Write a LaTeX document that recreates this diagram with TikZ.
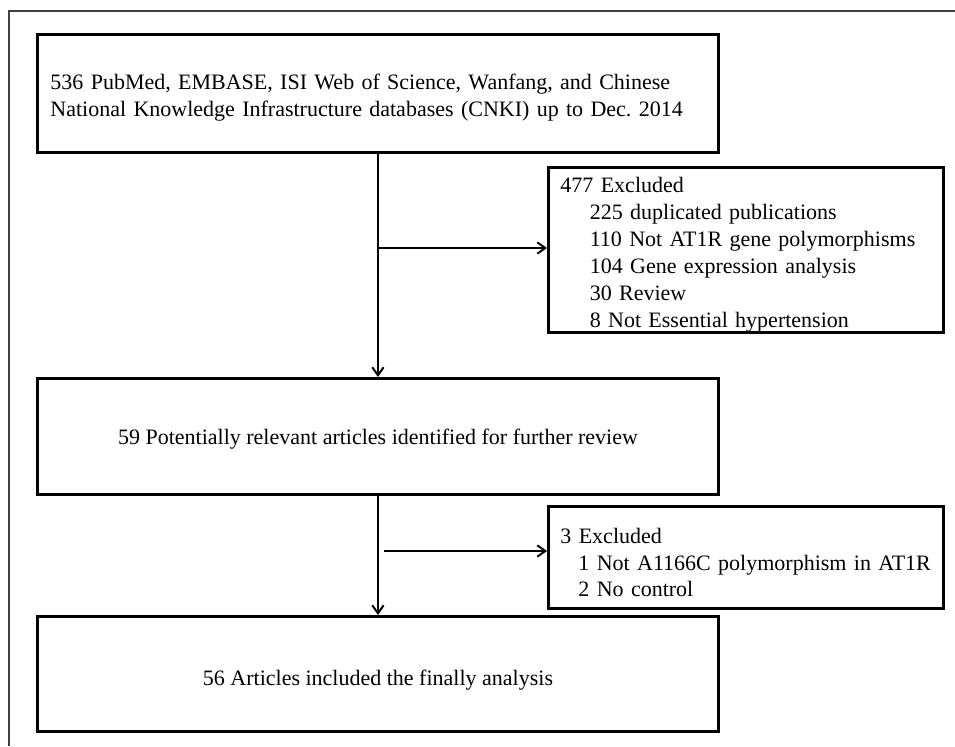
\documentclass[tikz,border=0pt]{standalone}
\usepackage{fontspec}
\setmainfont{Liberation Serif}
\usetikzlibrary{arrows.meta}
\frenchspacing
\begin{document}
\begin{tikzpicture}[x=0.75pt,y=-0.75pt,
  box/.style={draw=black,line width=2.2pt,rectangle,inner sep=0pt,font=\fontsize{16.5}{20.2}\selectfont},
  arr/.style={draw=black,line width=1.5pt,-{Straight Barb[length=6pt,width=8.5pt,line width=1.5pt]}},
  frame/.style={draw=black!75,line width=0.8pt}]
\useasboundingbox (0,0) rectangle (955,746);
\draw[frame] (9,746) -- (9,11) -- (955,11);
% main boxes
\node[box,anchor=north west,minimum width=681*0.75pt,minimum height=118*0.75pt,
  text width=655*0.75pt,align=left] (b1) at (36,33)
  {\rule{0pt}{17.5pt}\mbox{536 PubMed, EMBASE, ISI Web of Science, Wanfang, and Chinese}\\
   \mbox{National Knowledge Infrastructure databases (CNKI) up to Dec. 2014}};
\node[box,anchor=north west,minimum width=681*0.75pt,minimum height=116*0.75pt] (b3) at (36,377)
  {\rule{0pt}{16pt}59 Potentially relevant articles identified for further review};
\node[box,anchor=north west,minimum width=681*0.75pt,minimum height=115*0.75pt] (b5) at (36,615)
  {\rule{0pt}{20.5pt}56 Articles included the finally analysis};
% exclusion boxes
\node[box,anchor=north west,minimum width=395*0.75pt,minimum height=162*0.75pt,
  text width=371*0.75pt,align=left] (ex1) at (547,166)
  {\rule{0pt}{19pt}477 Excluded\\
   \mbox{\hspace*{22pt}225 duplicated publications}\\
   \mbox{\hspace*{22pt}110 Not AT1R gene polymorphisms}\\
   \mbox{\hspace*{22pt}104 Gene expression analysis}\\
   \mbox{\hspace*{22pt}30 Review}\\
   \mbox{\hspace*{22pt}8 Not Essential hypertension}};
\node[box,anchor=north west,minimum width=395*0.75pt,minimum height=102*0.75pt,
  text width=371*0.75pt,align=left] (ex2) at (547,505)
  {\rule{0pt}{19pt}3 Excluded\\
   \mbox{\hspace*{13.5pt}1 Not A1166C polymorphism in AT1R}\\
   \mbox{\hspace*{13.5pt}2 No control}};
% connectors
\coordinate (j1) at (377,248);
\coordinate (j2) at (384,551);
\draw[arr] (b1.south) -- (b3.north);
\draw[arr] (j1) -- (j1 -| ex1.west);
\draw[arr] (b3.south) -- (b5.north);
\draw[arr] (j2) -- (j2 -| ex2.west);
\end{tikzpicture}
\end{document}
